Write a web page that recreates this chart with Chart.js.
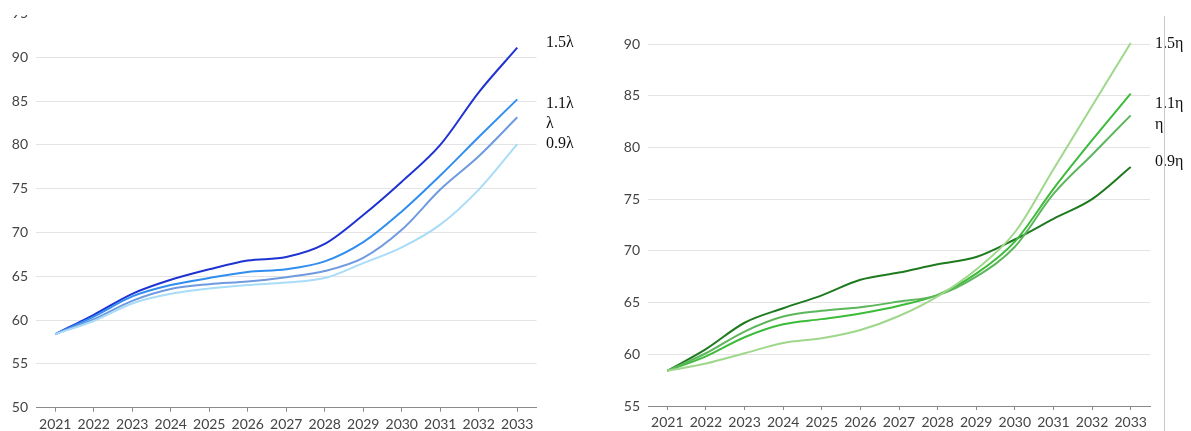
<!DOCTYPE html>
<html>
<head>
<meta charset="utf-8">
<script src="https://cdn.jsdelivr.net/npm/chart.js@4.4.1/dist/chart.umd.min.js"></script>
<style>
  body { margin: 0; background: #fff; }
  #panel { position: absolute; left: 0; top: 15px; width: 1191px; height: 416px; overflow: hidden; }
  .box { position: absolute; }
  #leftBox { left: 0; top: -15px; width: 590px; height: 440px; }
  #rightBox { left: 600px; top: -33px; width: 591px; height: 458px; }
  #divider { position: absolute; left: 1164px; top: 1px; width: 1px; height: 420px; background: #c8c8c8; }
</style>
</head>
<body>
<div id="panel">
  <div class="box" id="leftBox"><canvas id="lambdaChart"></canvas></div>
  <div class="box" id="rightBox"><canvas id="etaChart"></canvas></div>
  <div id="divider"></div>
</div>
<script>
const years = ['2021', '2022', '2023', '2024', '2025', '2026', '2027', '2028', '2029', '2030', '2031', '2032', '2033'];

// λ scenarios
const lambdaNames = ['1.5λ', '1.1λ', 'λ', '0.9λ'];
const lambda15 = [58.4, 60.6, 63.0, 64.6, 65.8, 66.8, 67.2, 68.7, 72.0, 75.8, 80.0, 86.0, 91.1];
const lambda11 = [58.4, 60.4, 62.7, 64.0, 64.8, 65.5, 65.8, 66.7, 68.9, 72.4, 76.5, 80.9, 85.2];
const lambda10 = [58.4, 60.1, 62.2, 63.55, 64.1, 64.4, 64.9, 65.6, 67.1, 70.3, 74.9, 78.7, 83.15];
const lambda09 = [58.4, 59.9, 61.9, 63.0, 63.6, 64.0, 64.3, 64.8, 66.5, 68.3, 70.9, 74.9, 80.1];

// η scenarios
const etaNames = ['1.5η', '1.1η', 'η', '0.9η'];
const eta15 = [58.4, 59.1, 60.1, 61.1, 61.55, 62.35, 63.7, 65.6, 68.2, 71.8, 77.9, 84.0, 90.1];
const eta11 = [58.4, 59.8, 61.65, 62.9, 63.4, 63.95, 64.7, 65.75, 67.8, 70.9, 76.0, 80.7, 85.2];
const eta10 = [58.4, 60.1, 62.2, 63.65, 64.2, 64.55, 65.1, 65.7, 67.5, 70.4, 75.5, 79.3, 83.1];
const eta09 = [58.4, 60.5, 63.05, 64.45, 65.7, 67.2, 67.9, 68.7, 69.4, 71.1, 73.1, 75.0, 78.1];

const tickFont = { family: 'Lato', size: 14 };

// writes each series name just past the right end of its line
const endLabels = {
  id: 'endLabels',
  afterDatasetsDraw(chart, args, opts) {
    const ctx = chart.ctx;
    ctx.save();
    ctx.font = '16px "Liberation Serif"';
    ctx.fillStyle = '#111';
    ctx.textBaseline = 'middle';
    chart.data.datasets.forEach((ds, i) => {
      const pts = chart.getDatasetMeta(i).data;
      const last = pts[pts.length - 1];
      ctx.fillText(ds.label, chart.chartArea.right + opts.dx, last.y + (ds.labelShift || 0));
    });
    ctx.restore();
  }
};

function line(label, data, color, labelShift) {
  return {
    label: label,
    data: data,
    borderColor: color,
    borderWidth: 2,
    pointRadius: 0,
    fill: false,
    cubicInterpolationMode: 'monotone',
    labelShift: labelShift
  };
}

function makeChart(id, datasets, yMin, yMax, opt) {
  return new Chart(document.getElementById(id), {
    type: 'line',
    data: { labels: years, datasets: datasets },
    plugins: [endLabels],
    options: {
      responsive: true,
      maintainAspectRatio: false,
      animation: false,
      events: [],
      layout: { padding: { top: opt.top, right: opt.right, left: 0, bottom: 0 } },
      plugins: {
        legend: { display: false },
        tooltip: { enabled: false },
        endLabels: { dx: opt.dx }
      },
      scales: {
        x: {
          offset: true,
          grid: { offset: false, drawOnChartArea: false, color: '#8a8a8a', tickLength: 4 },
          border: { color: '#8a8a8a' },
          ticks: { font: tickFont, color: '#444', padding: 4, maxRotation: 0, autoSkip: false },
          afterFit: s => { s.height = opt.xHeight; }
        },
        y: {
          min: yMin,
          max: yMax,
          grid: { color: '#e3e3e3', drawTicks: false },
          border: { display: false },
          ticks: { stepSize: 5, font: tickFont, color: '#444', padding: 8 },
          afterFit: s => {
            s.width = opt.yWidth;
            s.paddingTop = 0;
            s.paddingBottom = 0;
          }
        }
      }
    }
  });
}

makeChart('lambdaChart', [
  line(lambdaNames[3], lambda09, '#a9dcf7', 0),
  line(lambdaNames[2], lambda10, '#6f9ae0', 6.7),
  line(lambdaNames[1], lambda11, '#2f8ef0', 4.7),
  line(lambdaNames[0], lambda15, '#1f33d2', -4.5)
], 50, 95, { top: 13.5, right: 53.5, dx: 9.5, xHeight: 32.3, yWidth: 36 });

makeChart('etaChart', [
  line(etaNames[0], eta15, '#9fd78b', 0.5),
  line(etaNames[2], eta10, '#5cb65c', 9),
  line(etaNames[1], eta11, '#3dbb3a', 10),
  line(etaNames[3], eta09, '#1f7a1f', -4.8)
], 55, 95, { top: 10.3, right: 41, dx: 5, xHeight: 34, yWidth: 48 });
</script>
</body>
</html>
